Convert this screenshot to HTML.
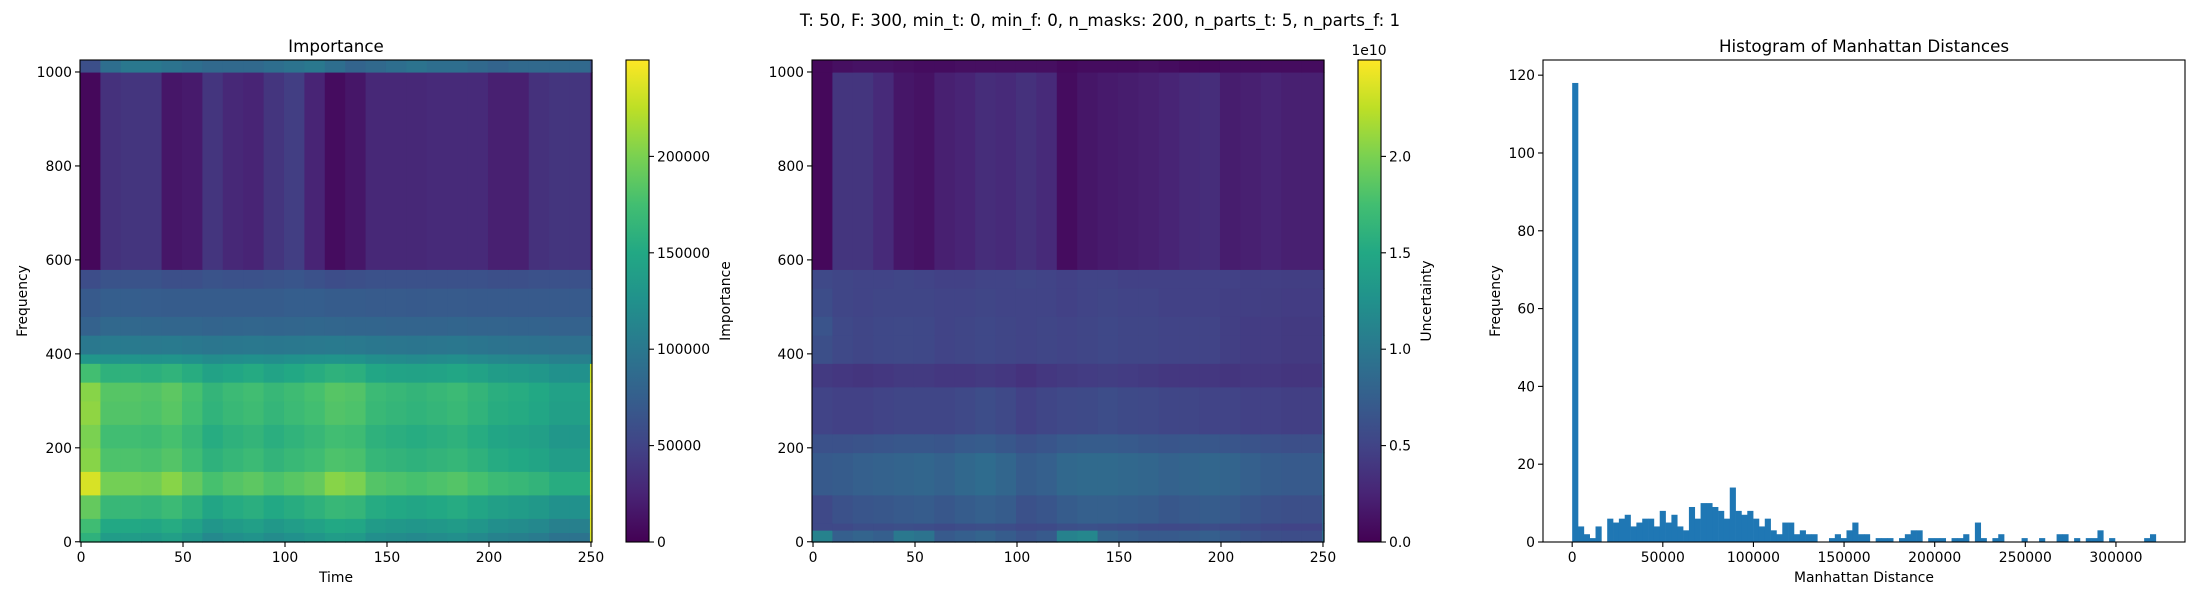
<!DOCTYPE html>
<html><head><meta charset="utf-8">
<style>
html,body{margin:0;padding:0;background:#fff;}
svg{display:block;font-family:"DejaVu Sans","Liberation Sans",sans-serif;}
</style></head>
<body>
<svg id="fig" width="2200" height="600" viewBox="0 0 2200 600" xmlns="http://www.w3.org/2000/svg">
<rect x="0" y="0" width="2200" height="600" fill="#fff"/>
<text x="1100" y="26" font-size="16.7" text-anchor="middle" fill="#000">T: 50, F: 300, min_t: 0, min_f: 0, n_masks: 200, n_parts_t: 5, n_parts_f: 1</text>
</svg>
<script>
// ---------- DATA ----------
// time column edges (shared by both heatmaps)
const timeEdges = [-0.5,9.5,19.5,29.5,39.5,49.5,59.5,69.5,79.5,89.5,99.5,109.5,119.5,129.5,139.5,149.5,159.5,169.5,179.5,189.5,199.5,209.5,219.5,229.5,239.5,249.5,250.5];
// importance frequency band edges (bottom -> top)
const impFreqEdges = [-0.5,20,50,100,150,200,250,300,340,380,400,440,480,540,580,1000,1025.5];
// importance values in thousands, one row per band (bottom -> top), one value per time column
const impRows = [
 [160,137,137,135,140,130,117,123,127,120,125,130,137,135,123,120,117,120,123,117,110,107,103,95,95,235],
 [173,150,150,148,153,143,130,136,140,133,138,143,150,148,136,133,130,133,136,130,123,120,116,108,108,238],
 [190,167,167,165,170,160,147,153,157,150,155,160,167,165,153,150,147,150,153,147,140,137,133,125,125,240],
 [235,197,197,195,205,190,177,183,187,180,185,190,205,200,183,180,177,180,183,177,170,167,163,155,155,245],
 [205,180,180,178,183,173,160,166,170,163,168,173,180,178,166,163,160,163,166,160,153,150,146,138,138,240],
 [200,174,174,172,177,167,154,160,164,157,162,167,174,172,160,157,154,157,160,154,147,144,140,132,132,240],
 [208,182,182,180,185,175,162,168,172,165,170,175,182,180,168,165,162,165,168,162,155,152,148,140,140,240],
 [205,184,184,182,187,177,164,170,174,167,172,177,184,182,170,167,164,167,170,164,157,154,150,142,142,240],
 [175,160,160,158,162,155,143,148,152,145,150,155,160,158,148,145,143,145,148,143,137,135,132,125,125,230],
 [130,128,128,127,128,125,120,122,124,122,125,127,128,127,122,120,118,120,122,118,115,113,112,108,108,110],
 [100,102,102,101,102,100,98,99,100,99,100,101,102,101,99,98,97,98,99,97,95,94,93,92,92,92],
 [78,84,84,83,82,82,80,81,82,81,82,83,82,81,81,80,80,80,81,80,80,79,79,78,78,78],
 [70,74,74,73,72,72,72,72,72,72,74,74,72,72,71,71,70,71,71,70,70,70,70,70,70,70],
 [58,64,64,64,60,60,64,62,62,64,66,62,58,60,62,62,62,62,62,62,60,60,62,62,62,62],
 [5,35,38,38,15,18,38,28,25,38,45,25,8,15,28,28,28,30,30,30,22,22,35,38,38,20],
 [60,90,100,100,95,90,85,85,85,90,95,100,90,80,85,90,95,90,90,85,80,85,85,85,85,60]
];
const impMax = 250; // thousands
const impTicks = [0,50000,100000,150000,200000];
const impTickLabels = ["0","50000","100000","150000","200000"];

// uncertainty frequency band edges (bottom -> top)
const uncFreqEdges = [-0.5,25,40,100,190,230,330,380,440,480,540,580,1000,1025.5];
// uncertainty values in units of 1e8
const uncRows = [
 [110,75,80,75,100,95,70,75,80,72,65,70,110,115,80,75,70,70,72,75,70,65,60,58,58,90],
 [55,55,58,58,60,58,56,58,60,58,55,56,60,62,60,58,56,55,56,58,56,55,52,50,50,80],
 [55,62,66,68,70,72,68,72,76,72,62,66,72,76,76,74,72,68,70,72,70,66,62,60,60,85],
 [70,72,76,78,80,82,78,84,88,82,72,76,84,86,86,84,82,78,80,82,80,76,72,70,70,90],
 [62,62,64,66,68,68,66,70,72,68,62,66,70,72,72,70,68,66,68,68,66,64,62,60,60,80],
 [50,48,48,50,52,52,52,55,58,55,48,52,55,56,58,56,55,52,52,50,50,48,48,46,46,70],
 [42,40,38,40,42,42,40,40,42,40,36,40,42,44,45,44,42,40,40,40,38,40,40,38,38,60],
 [60,55,52,54,55,54,50,52,54,52,50,52,50,52,54,52,52,50,50,50,46,44,44,42,42,60],
 [65,55,52,54,55,54,50,52,54,52,50,52,50,52,54,52,52,50,50,50,46,44,44,42,42,55],
 [58,52,50,52,52,52,50,50,52,50,50,50,48,50,52,50,50,48,48,48,46,46,45,44,44,50],
 [55,52,50,50,52,50,48,48,50,50,52,50,48,50,50,48,48,48,48,48,48,46,46,45,45,45],
 [5,38,38,30,15,12,22,25,32,30,35,30,8,15,18,20,22,25,30,32,20,22,25,22,22,20],
 [5,10,12,12,10,8,8,10,10,10,10,10,6,8,8,8,10,8,6,6,8,8,8,8,8,8]
];
const uncMax = 250; // 1e8 units -> 2.5e10
const uncTicks = [0,0.5,1.0,1.5,2.0];
const uncTickLabels = ["0.0","0.5","1.0","1.5","2.0"];

const heatXTicks = [0,50,100,150,200,250];
const heatYTicks = [0,200,400,600,800,1000];

// histogram
const histCounts = [118,4,2,1,4,0,6,5,6,7,4,5,6,6,4,8,5,7,4,3,9,6,10,10,9,8,6,14,8,7,8,6,4,6,3,2,5,5,2,3,2,2,0,0,1,2,1,3,5,2,2,0,1,1,1,0,1,2,3,3,0,1,1,1,0,1,1,2,0,5,1,0,1,2,0,0,0,1,0,0,1,0,0,2,2,0,1,0,1,1,3,0,1,0,0,0,0,0,1,2];
const histRangeMin = 0;
const histRangeMax = 322000;
const histXTicks = [0,50000,100000,150000,200000,250000,300000];
const histYTicks = [0,20,40,60,80,100,120];

// ---------- helpers ----------
const NS = "http://www.w3.org/2000/svg";
const svg = document.getElementById('fig');
const VIR = ["#440154","#482475","#414487","#355f8d","#2a788e","#21918c","#22a884","#42be71","#7ad151","#bddf26","#fde725"];
function hex(c){return [parseInt(c.slice(1,3),16),parseInt(c.slice(3,5),16),parseInt(c.slice(5,7),16)];}
function viridis(t){
  t=Math.max(0,Math.min(1,t));
  const p=t*10, i=Math.min(9,Math.floor(p)), f=p-i;
  const a=hex(VIR[i]), b=hex(VIR[i+1]);
  return "rgb("+a.map((v,k)=>Math.round(v+(b[k]-v)*f)).join(",")+")";
}
function mk(tag, attrs, parent){
  const e=document.createElementNS(NS,tag);
  for(const k in attrs) e.setAttribute(k, attrs[k]);
  (parent||svg).appendChild(e);
  return e;
}
function txt(str, x, y, size, anchor, parent, rot){
  const t=mk('text',{x:x,y:y,'font-size':size,'text-anchor':anchor||'middle',fill:'#000'},parent);
  if(rot) t.setAttribute('transform','rotate(-90 '+x+' '+y+')');
  t.textContent=str;
  return t;
}
function lin(d0,d1,r0,r1){return v=>r0+(v-d0)/(d1-d0)*(r1-r0);}

// ---------- heatmap ----------
function heatmap(name, X0, X1, Y0, Y1, freqEdges, rows, vmax){
  const sx=lin(-0.5,250.5,X0,X1), sy=lin(-0.5,1025.5,Y1,Y0);
  const g=mk('g',{});
  
  
  rows.forEach((row,ri)=>{
    row.forEach((v,ci)=>{
      const x=sx(timeEdges[ci]), x2=sx(timeEdges[ci+1]);
      const y=sy(freqEdges[ri+1]), y2=sy(freqEdges[ri]);
      const r=mk('rect',{x:x.toFixed(2),y:y.toFixed(2),width:(x2-x+0.6).toFixed(2),height:(y2-y+0.6).toFixed(2),fill:viridis(v/vmax)},g);
      
      
    });
  });
  const fr=mk('rect',{x:X0,y:Y0,width:X1-X0,height:Y1-Y0,fill:'none',stroke:'#000','stroke-width':1.1});
  
  
  heatXTicks.forEach(t=>{
    const x=sx(t);
    const l=mk('line',{x1:x,x2:x,y1:Y1,y2:Y1+5,stroke:'#000','stroke-width':1.1});
    
    
    const tl=txt(String(t),x,Y1+20,13.9,'middle');
    
    
  });
  heatYTicks.forEach(t=>{
    const y=sy(t);
    const l=mk('line',{x1:X0-5,x2:X0,y1:y,y2:y,stroke:'#000','stroke-width':1.1});
    
    
    const tl=txt(String(t),X0-8,y+5,13.9,'end');
    
    
  });
}
function colorbar(name, X0, X1, Y0, Y1, ticks, labels, vmax, label, labelX, gid){
  const defs=mk('defs',{});
  const grad=mk('linearGradient',{id:gid,x1:0,y1:1,x2:0,y2:0},defs);
  VIR.forEach((c,i)=>mk('stop',{offset:(i/10),'stop-color':c},grad));
  const r=mk('rect',{x:X0,y:Y0,width:X1-X0,height:Y1-Y0,fill:'url(#'+gid+')',stroke:'#000','stroke-width':1.1});
  
  
  const sy=lin(0,vmax,Y1,Y0);
  ticks.forEach((t,i)=>{
    const y=sy(t);
    const l=mk('line',{x1:X1,x2:X1+5,y1:y,y2:y,stroke:'#000','stroke-width':1.1});
    
    
    const tl=txt(labels[i],X1+8,y+5,13.9,'start');
    
    
  });
  const lb=txt(label,labelX,(Y0+Y1)/2,13.9,'middle',null,true);
  
  
}

// Importance
heatmap('importance-heatmap',80,592,60,542,impFreqEdges,impRows,impMax);
let t1=txt('Importance',336,52,16.7,'middle');


let xl=txt('Time',336,582,13.9,'middle');


let yl=txt('Frequency',27,301,13.9,'middle',null,true);


colorbar('importance-colorbar',626,649,60,542,impTicks,impTickLabels,impMax*1000,'Importance',730,'g1');

// Uncertainty
heatmap('uncertainty-heatmap',812,1324,60,542,uncFreqEdges,uncRows,uncMax);
colorbar('uncertainty-colorbar',1358,1381,60,542,uncTicks,uncTickLabels,uncMax/100,'Uncertainty',1431,'g2');
let e10=txt('1e10',1369,55,13.9,'middle');



// Histogram
(function(){
  const X0=1543,X1=2185,Y0=60,Y1=542;
  const span=histRangeMax-histRangeMin, pad=span*0.05;
  const sx=lin(histRangeMin-pad,histRangeMax+pad,X0,X1);
  const ymax=Math.max(...histCounts)*1.05;
  const sy=lin(0,ymax,Y1,Y0);
  const bw=span/histCounts.length;
  const g=mk('g',{});
  
  
  histCounts.forEach((c,i)=>{
    if(c<=0) return;
    const x=sx(histRangeMin+i*bw), x2=sx(histRangeMin+(i+1)*bw);
    const r=mk('rect',{x:x.toFixed(2),y:sy(c).toFixed(2),width:(x2-x+0.3).toFixed(2),height:(Y1-sy(c)).toFixed(2),fill:'#1f77b4'},g);
    
    
  });
  const fr=mk('rect',{x:X0,y:Y0,width:X1-X0,height:Y1-Y0,fill:'none',stroke:'#000','stroke-width':1.1});
  
  
  histXTicks.forEach(t=>{
    const x=sx(t);
    const l=mk('line',{x1:x,x2:x,y1:Y1,y2:Y1+5,stroke:'#000','stroke-width':1.1});
    
    
    const tl=txt(String(t),x,Y1+20,13.9,'middle');
    
    
  });
  histYTicks.forEach(t=>{
    const y=sy(t);
    const l=mk('line',{x1:X0-5,x2:X0,y1:y,y2:y,stroke:'#000','stroke-width':1.1});
    
    
    const tl=txt(String(t),X0-8,y+5,13.9,'end');
    
    
  });
  const tt=txt('Histogram of Manhattan Distances',(X0+X1)/2,52,16.7,'middle');
  
  
  const xa=txt('Manhattan Distance',(X0+X1)/2,582,13.9,'middle');
  
  
  const ya=txt('Frequency',1500,301,13.9,'middle',null,true);
  
  
})();
</script>
</body></html>
